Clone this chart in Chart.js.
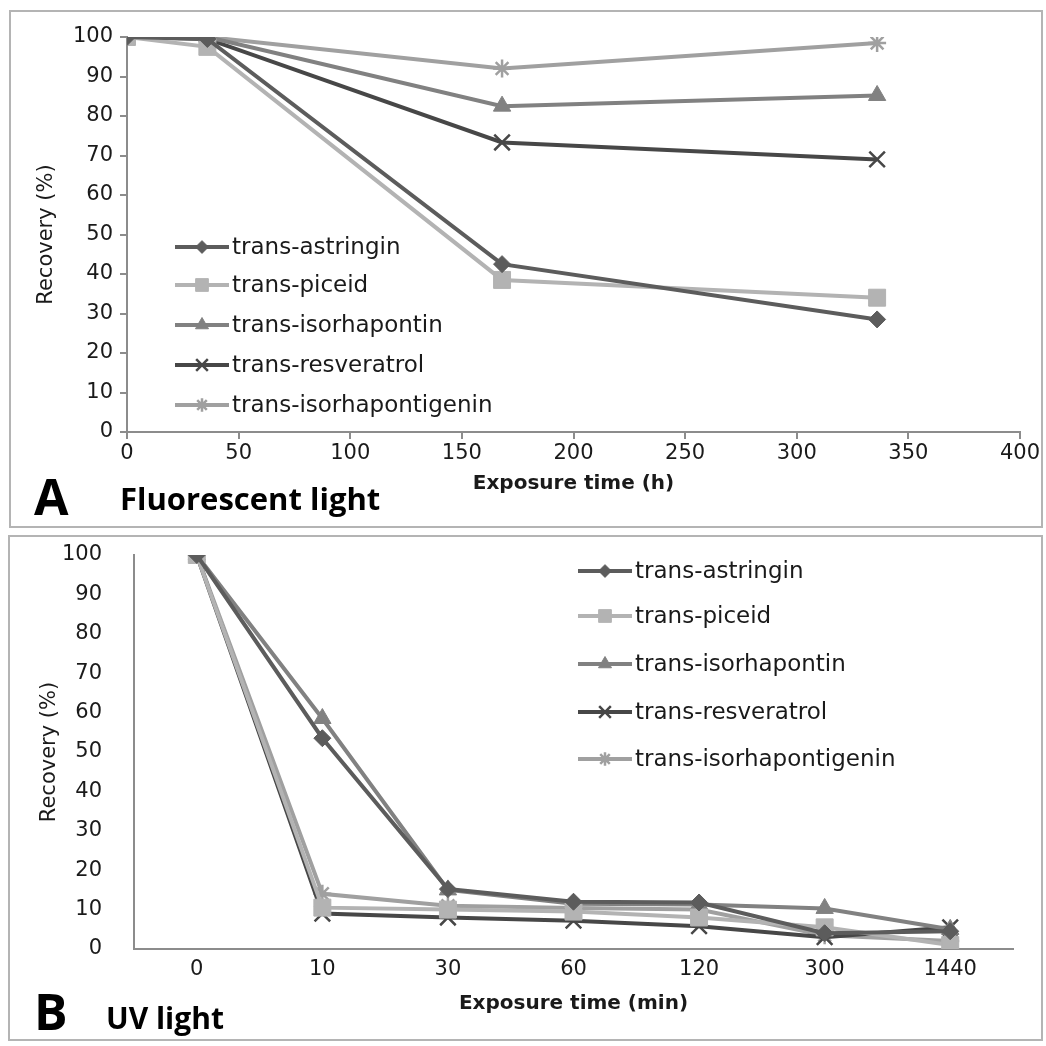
<!DOCTYPE html>
<html>
<head>
<meta charset="utf-8">
<script src="https://cdn.jsdelivr.net/npm/chart.js@4.4.1/dist/chart.umd.min.js"></script>
<style>
  body { margin: 0; background: #fff; width: 1046px; height: 1046px; position: relative; overflow: hidden; }
  .box { position: absolute; border: 2px solid #b4b4b4; box-sizing: border-box; }
  canvas { position: absolute; left: 0; }
  .big { position: absolute; font-family: "Open Sans", "Liberation Sans", sans-serif; font-weight: 700; color: #000; line-height: 1; white-space: nowrap; }
</style>
</head>
<body>
<div class="box" style="left:9px;top:10px;width:1034px;height:518px"></div>
<div class="box" style="left:8px;top:535px;width:1035px;height:506px"></div>
<canvas id="chartA" width="1046" height="530" style="top:0"></canvas>
<canvas id="chartB" width="1046" height="516" style="top:530px"></canvas>
<div class="big" style="left:34px;top:471px;font-size:50px">A</div>
<div class="big" style="left:120px;top:483px;font-size:31px">Fluorescent light</div>
<div class="big" style="left:34px;top:986px;font-size:50px">B</div>
<div class="big" style="left:106px;top:1003px;font-size:30px">UV light</div>
<script>
// compounds
var names = ["trans-astringin", "trans-piceid", "trans-isorhapontin", "trans-resveratrol", "trans-isorhapontigenin"];
var colors = ["#5c5c5c", "#b3b3b3", "#818181", "#474747", "#a0a0a0"];
var shapes = ["rectRot", "rect", "triangle", "crossRot", "star"];
var radii = [8.5, 12, 10, 11, 9];

// A: fluorescent light, exposure in hours
var hoursA = [0, 36, 168, 336];
var astringinA = [100, 99.5, 42.5, 28.5];
var piceidA = [100, 97.5, 38.5, 34];
var isorhapontinA = [100, 100, 82.5, 85.2];
var resveratrolA = [100, 99.5, 73.3, 69];
var isorhapontigeninA = [100, 100, 92, 98.5];

// B: UV light, exposure in minutes (categories)
var minutesB = ["0", "10", "30", "60", "120", "300", "1440"];
var astringinB = [100, 53.5, 15.2, 12, 11.8, 4, 4.5];
var piceidB = [100, 10.5, 10, 9.5, 8, 5.5, 1];
var isorhapontinB = [100, 58.5, 15, 11.5, 11.3, 10.3, 5];
var resveratrolB = [100, 9, 8, 7.2, 5.8, 3, 5.5];
var isorhapontigeninB = [100, 14, 11, 10.4, 10, 3.5, 2];

var seriesA = [astringinA, piceidA, isorhapontinA, resveratrolA, isorhapontigeninA];
var seriesB = [astringinB, piceidB, isorhapontinB, resveratrolB, isorhapontigeninB];

var font = "'DejaVu Sans', 'Liberation Sans', sans-serif";
var axisColor = "#8c8c8c";
var textColor = "#1a1a1a";

function makeSets(series, withX) {
  return series.map(function(vals, i) {
    return {
      label: names[i],
      data: withX ? vals.map(function(v, j) { return {x: hoursA[j], y: v}; }) : vals,
      borderColor: colors[i],
      backgroundColor: colors[i],
      pointStyle: shapes[i],
      pointRadius: radii[i],
      pointBorderWidth: shapes[i] == "crossRot" || shapes[i] == "star" ? 2.5 : 1,
      borderWidth: 4,
      tension: 0
    };
  });
}

// legend drawn inside the plot
var innerLegend = {
  id: "innerLegend",
  afterDatasetsDraw: function(chart, args, opts) {
    var ctx = chart.ctx;
    ctx.save();
    chart.data.datasets.forEach(function(ds, i) {
      var y = opts.rows[i];
      ctx.strokeStyle = ds.borderColor;
      ctx.lineWidth = 4;
      ctx.beginPath();
      ctx.moveTo(opts.x, y);
      ctx.lineTo(opts.x + opts.len, y);
      ctx.stroke();
      ctx.fillStyle = ds.backgroundColor;
      ctx.lineWidth = ds.pointBorderWidth;
      Chart.helpers.drawPoint(ctx, {pointStyle: ds.pointStyle, radius: ds.pointRadius * 0.75, rotation: 0, borderWidth: ds.pointBorderWidth}, opts.x + opts.len / 2, y);
      ctx.fillStyle = textColor;
      ctx.font = opts.size + "px " + font;
      ctx.textBaseline = "middle";
      ctx.fillText(ds.label, opts.x + opts.len + 3, y + 1);
    });
    ctx.restore();
  }
};

new Chart(document.getElementById("chartA"), {
  type: "line",
  data: { datasets: makeSets(seriesA, true) },
  plugins: [innerLegend],
  options: {
    responsive: false,
    animation: false,
    layout: { padding: { left: 30, right: 26, top: 37, bottom: 30 } },
    plugins: {
      legend: { display: false },
      tooltip: { enabled: false },
      innerLegend: { x: 175, len: 54, size: 23, rows: [247, 285, 325, 365, 405] }
    },
    scales: {
      x: {
        type: "linear", min: 0, max: 400,
        ticks: { stepSize: 50, color: textColor, font: { family: font, size: 21 }, padding: 2 },
        grid: { drawOnChartArea: false, tickLength: 7, color: axisColor, lineWidth: 2 },
        border: { color: axisColor, width: 2 },
        title: { display: true, text: "Exposure time (h)", color: textColor, font: { family: font, size: 20, weight: "bold" }, padding: { top: 2, bottom: 4 } },
        afterFit: function(s) { s.height = 68; }
      },
      y: {
        min: 0, max: 100,
        ticks: { stepSize: 10, color: textColor, font: { family: font, size: 21 }, padding: 7 },
        grid: { drawOnChartArea: false, tickLength: 7, color: axisColor, lineWidth: 2 },
        border: { color: axisColor, width: 2 },
        title: { display: true, text: "Recovery (%)", color: textColor, font: { family: font, size: 21 }, padding: { top: 4, bottom: 4 } },
        afterFit: function(s) { s.width = 97; }
      }
    }
  }
});

new Chart(document.getElementById("chartB"), {
  type: "line",
  data: { labels: minutesB, datasets: makeSets(seriesB, false) },
  plugins: [innerLegend],
  options: {
    responsive: false,
    animation: false,
    layout: { padding: { left: 33, right: 33, top: 25, bottom: 26 } },
    plugins: {
      legend: { display: false },
      tooltip: { enabled: false },
      innerLegend: { x: 578, len: 54, size: 23, rows: [41, 86, 134, 182, 229] }
    },
    scales: {
      x: {
        type: "category", offset: true,
        ticks: { color: textColor, font: { family: font, size: 21 }, padding: 0 },
        grid: { drawOnChartArea: false, tickLength: 8, color: "rgba(0,0,0,0)" },
        border: { color: axisColor, width: 2 },
        title: { display: true, text: "Exposure time (min)", color: textColor, font: { family: font, size: 20, weight: "bold" }, padding: { top: 2, bottom: 4 } },
        afterFit: function(s) { s.height = 71; }
      },
      y: {
        min: 0, max: 100,
        ticks: { stepSize: 10, color: textColor, font: { family: font, size: 21 }, padding: 6 },
        grid: { drawOnChartArea: false, tickLength: 26, color: "rgba(0,0,0,0)" },
        border: { color: axisColor, width: 2 },
        title: { display: true, text: "Recovery (%)", color: textColor, font: { family: font, size: 21 }, padding: { top: 4, bottom: 4 } },
        afterFit: function(s) { s.width = 101; }
      }
    }
  }
});
</script>
</body>
</html>
